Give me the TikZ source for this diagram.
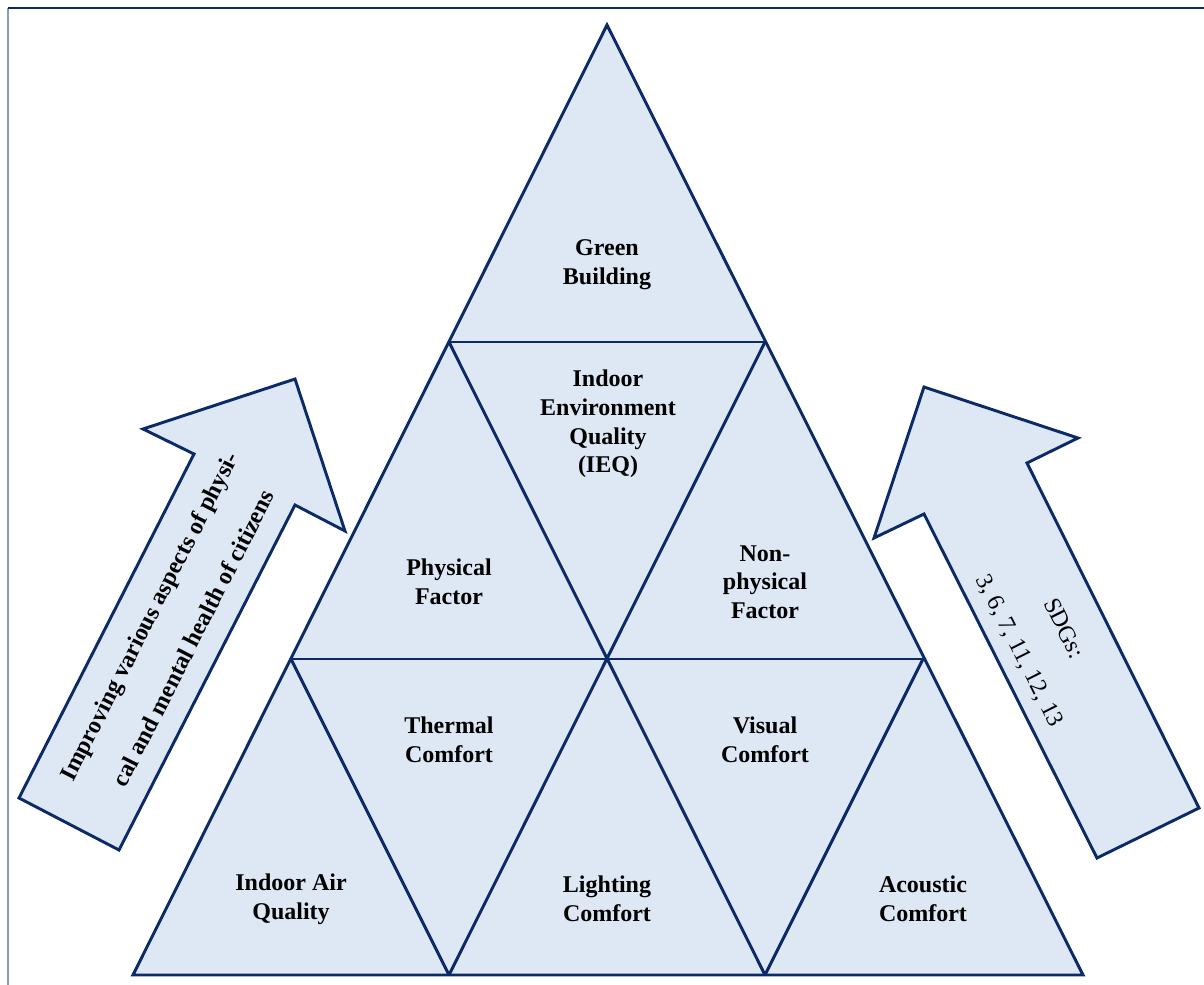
\documentclass[tikz,border=0pt]{standalone}
\usepackage{fontspec}
\setmainfont{Liberation Serif}
\begin{document}
\begin{tikzpicture}[x=0.75pt,y=-0.75pt,
  edge/.style={draw=navy,line width=2.2pt,line join=miter},
  tile/.style={fill=paleblue},
  lbl/.style={font=\fontsize{18}{21.5}\selectfont\bfseries,align=center,text=black},
  arrowbold/.style={font=\fontsize{18}{37}\selectfont\bfseries,align=center,text=black},
  arrowtxt/.style={font=\fontsize{18}{37}\selectfont,align=center,text=black}]
\definecolor{navy}{HTML}{0B2A66}
\definecolor{paleblue}{HTML}{DEE8F5}
\definecolor{framegray}{HTML}{8A9CBE}
\useasboundingbox (0,0) rectangle (1204,985);

% page frame
\draw[framegray,line width=1.6pt] (8,8) -- (8,985);
\draw[navy,line width=1.6pt] (8,8) -- (1204,8);

% lattice points of the subdivided triangle
\coordinate (t0) at (607,25);
\coordinate (a1) at (449,342);
\coordinate (a2) at (765,342);
\coordinate (b1) at (291,659);
\coordinate (b2) at (607,659);
\coordinate (b3) at (923,659);
\coordinate (c1) at (133,975);
\coordinate (c2) at (449,975);
\coordinate (c3) at (765,975);
\coordinate (c4) at (1083,975);

% left block arrow
\draw[edge,tile] (19,798) -- (194,454) -- (143,429) -- (295,379)
  -- (345,531) -- (295,505) -- (119,850) -- cycle;
% right block arrow
\draw[edge,tile] (924,387) -- (1078,438) -- (1027,463) -- (1199,808)
  -- (1097,858) -- (924,514) -- (874,538) -- cycle;

% triangle body and inner edges
\fill[tile] (t0) -- (c1) -- (c4) -- cycle;
\draw[edge] (a1) -- (a2);
\draw[edge] (b1) -- (b3);
\draw[edge] (a1) -- (c3);
\draw[edge] (a2) -- (c2);
\draw[edge] (b1) -- (c2);
\draw[edge] (b3) -- (c3);
\draw[edge] (t0) -- (c1) -- (c4) -- cycle;

% tile labels
\node[lbl] (green) at (607,265) {Green\\Building};
\node[lbl] (ieq) at (608,424) {Indoor\\Environment\\Quality\\(IEQ)};
\node[lbl] (phys) at (449,582) {Physical\\Factor};
\node[lbl] (nonphys) at (765,582) {Non-\\physical\\Factor};
\node[lbl] (thermal) at (449,740) {Thermal\\Comfort};
\node[lbl] (visual) at (765,740) {Visual\\Comfort};
\node[lbl] (iaq) at (291,899) {Indoor Air\\Quality};
\node[lbl] (lighting) at (607,899) {Lighting\\Comfort};
\node[lbl] (acoustic) at (923,899) {Acoustic\\Comfort};

% arrow captions
\node[arrowbold,rotate=63] (health) at (171,627)
  {Improving various aspects of physi-\\cal and mental health of citizens};
\node[arrowtxt,rotate=-63.3] (sdgs) at (1041,640) {SDGs:\\3, 6, 7, 11, 12, 13};
\end{tikzpicture}
\end{document}
